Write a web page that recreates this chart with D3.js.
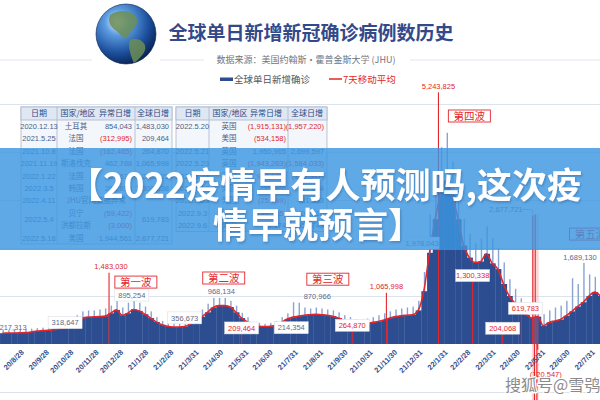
<!DOCTYPE html>
<html>
<head>
<meta charset="utf-8">
<script src="https://cdn.jsdelivr.net/npm/d3@7/dist/d3.min.js"></script>
<style>
body { margin: 0; background: #fff; }
svg { display: block; font-family: "Noto Sans CJK SC", "Noto Sans", sans-serif; }
.num { font-family: "Liberation Sans", Arial, sans-serif; }
</style>
</head>
<body>
<svg id="chart" width="600" height="400"></svg>
<script>
// weekly data, in thousands, weeks starting 2020-08-01
var weekAvg = [225,228,230,232,236,250,270,278,285,300,320,340,
  400,470,540,560,565,570,580,
  640,710,600,640,720,690,620,
  540,460,400,370,355,355,365,
  420,510,570,660,760,800,800,770,
  660,540,460,380,370,365,370,
  390,450,520,560,580,600,610,620,610,600,580,
  540,490,450,430,420,430,450,470,500,540,570,590,600,610,
  700,1100,1900,2600,3150,3400,3100,2600,2050,
  1800,1700,1720,1880,1680,1560,1250,1000,850,700,610,540,
  570,380,450,480,510,590,680,780,870,1000,1080,1000];
var weekPeak = [290,290,300,300,310,320,330,340,350,370,400,420,
  520,600,680,700,700,720,740,
  800,900,760,860,900,860,780,
  680,560,480,440,420,430,460,
  540,640,720,840,960,960,960,900,
  800,650,560,460,440,420,440,
  480,560,640,870,860,760,740,760,740,720,700,
  660,600,560,520,500,530,560,600,640,680,720,740,760,780,
  900,1500,2700,3500,4100,4400,3800,3200,2600,
  2300,2100,2200,2450,2200,2000,1700,1350,1150,950,850,760,
  800,620,700,760,800,900,1370,1250,1689,1450,1400,1540];

var tickDates = ["2020-08-28","2020-09-28","2020-10-28","2020-11-28","2020-12-28","2021-01-28",
  "2021-02-28","2021-03-31","2021-04-30","2021-05-31","2021-06-30","2021-07-31","2021-08-31",
  "2021-09-30","2021-10-31","2021-11-30","2021-12-31","2022-01-31","2022-02-28","2022-03-31",
  "2022-04-30","2022-05-31","2022-06-30","2022-07-31"];

// JHU anomaly days: global daily total
var anomalyDates = ["2020-12-13","2021-05-25","2021-10-08","2021-11-19","2022-01-22","2022-03-05",
  "2022-04-11","2022-05-04","2022-05-18","2022-05-20","2022-05-21","2022-05-23","2022-05-24"];
var anomalyValues = [1483030,209464,264870,1065998,5243825,1300338,204068,619783,2677721,
  -1957220,2699597,-1584033,-120547];

var labelDates = ["2020-08-17","2020-10-20","2020-12-13","2021-01-10","2021-03-16","2021-04-30",
  "2021-05-25","2021-07-25","2021-08-26","2021-10-08","2021-11-19","2022-01-02","2022-01-22",
  "2022-03-05","2022-05-18","2022-05-04","2022-04-11","2022-05-24","2022-07-15"];
var labelValues = [217313,318647,1483030,895254,356673,968134,209464,214354,870966,264870,
  1065998,1978043,5243825,1300338,2677721,619783,204068,-120547,1689130];

var waveNames = ["第一波","第二波","第三波","第四波","第五波"];
var waveDates = ["2021-01-15","2021-05-03","2021-09-08","2022-03-01","2022-07-28"];
var waveLevels = [1290000,1375000,1350000,4750000,2290000];

var tableHead = ["日期","国家/地区","异常日增","全球日增"];
var leftRows = [
  ["2020.12.13","土耳其","854,043","1,483,030"],
  ["2021.5.25","法国","(312,995)","209,464"],
  ["2021.10.8","法国","(162,465)","264,870"],
  ["2021.11.19","斯洛伐克","462,788","1,065,998"],
  ["2022.1.22","法国","501,635","5,243,825"],
  ["2022.3.5","韩国","266,853","1,300,338"],
  ["2022.4.11","JHU官网数据异常","",""],
  ["2022.5.4","贝宁","(59,422)","619,783"],
  ["","洪都拉斯","(3,000)",""],
  ["2022.5.18","美国","1,944,561","2,677,721"]];
var rightRows = [
  ["2022.5.20","英国","(1,915,131)","(1,957,220)"],
  ["","美国","(534,158)",""],
  ["2022.5.21","英国","1,950,965","2,699,597"],
  ["2022.5.23","英国","(1,943,263)","(1,584,033)"],
  ["2022.5.24","英国","(1,928,580)","(120,547)"],
  ["2022.6.13","美国","235,586","611,824"],
  ["2022.8.23","美国","(25,799)","431,953"],
  ["2022.9.3","法国","(46,315)","404,516"],
  ["2022.9.6","美国","33,174","556,749"]];

var parse = d3.timeParse("%Y-%m-%d");
var format = d3.format(",");
var RED = "#e3262b", NAVY = "#2d4d91", GRAY = "#5d6b88";

var svg = d3.select("#chart");
var defs = svg.append("defs");

var x = d3.scaleTime()
  .domain([parse("2020-08-28"), parse("2022-07-31")])
  .range([22, 593]);
var y = d3.scaleLinear().domain([0, 6000000]).range([344, 56]);

// ---- header ----
var rg = defs.append("radialGradient").attr("id", "globe")
  .attr("cx", "36%").attr("cy", "30%").attr("r", "72%");
rg.append("stop").attr("offset", "0%").attr("stop-color", "#eaf5ff");
rg.append("stop").attr("offset", "30%").attr("stop-color", "#5b9be0");
rg.append("stop").attr("offset", "72%").attr("stop-color", "#1c4f9c");
rg.append("stop").attr("offset", "100%").attr("stop-color", "#0b2658");
defs.append("clipPath").attr("id", "gclip").append("circle").attr("r", 30);

svg.selectAll(".sep")
  .data([[0, 92], [160, 204], [410, 600]])
  .enter().append("line")
  .attr("x1", function(d) { return d[0]; })
  .attr("x2", function(d) { return d[1]; })
  .attr("y1", 60).attr("y2", 60)
  .style("stroke", "#dfe5ee");

var globe = svg.append("g").attr("transform", "translate(126,34)");
globe.append("circle").attr("r", 30).style("fill", "url(#globe)");
var land = globe.append("g").attr("clip-path", "url(#gclip)").style("fill", "#6d8f55").style("opacity", 0.85);
land.append("path").attr("d", "M-16,-19 C-7,-26 9,-23 11,-15 C13,-9 5,-5 3,1 C1,6 -4,4 -6,0 C-10,-4 -20,-8 -16,-19 Z");
land.append("path").attr("d", "M4,6 C12,3 21,8 19,16 C17,22 11,26 8,30 C6,23 1,14 4,6 Z");
globe.append("circle").attr("r", 30).style("fill", "none").style("stroke", "#0a2250").style("stroke-width", 0.6);

svg.append("text").attr("x", 311).attr("y", 40)
  .attr("text-anchor", "middle")
  .style("font-size", "19px").style("font-weight", "bold").style("fill", "#33498a")
  .text("全球单日新增新冠确诊病例数历史");
svg.append("text").attr("x", 306).attr("y", 63)
  .attr("text-anchor", "middle")
  .style("font-size", "9px").style("fill", "#6f7480")
  .text("数据来源：美国约翰斯·霍普金斯大学 (JHU)");

svg.append("rect").attr("x", 220).attr("y", 77.5).attr("width", 13).attr("height", 3.5).style("fill", NAVY);
svg.append("text").attr("x", 234).attr("y", 82.5).style("font-size", "9.5px").style("fill", "#555")
  .text("全球单日新增确诊");
svg.append("line").attr("x1", 329).attr("x2", 342).attr("y1", 79).attr("y2", 79)
  .style("stroke", RED).style("stroke-width", 1.5);
svg.append("text").attr("x", 343).attr("y", 82.5).style("font-size", "9.5px").style("fill", RED)
  .text("7天移动平均");

// ---- grid ----
svg.append("g").selectAll("line")
  .data([1e6, 2e6, 3e6, 4e6, 5e6])
  .enter().append("line")
  .attr("x1", 0).attr("x2", 600)
  .attr("y1", function(d) { return Math.round(y(d)) + 0.5; })
  .attr("y2", function(d) { return Math.round(y(d)) + 0.5; })
  .style("stroke", "#dde3ec");

// ---- bars ----
var start = parse("2020-08-01");
var weekDates = weekAvg.map(function(d, i) { return d3.timeDay.offset(start, i * 7); });

svg.append("g").selectAll("rect")
  .data(weekPeak)
  .enter().append("rect")
  .attr("x", function(d, i) { return x(d3.timeDay.offset(weekDates[i], 3)); })
  .attr("width", 1.4)
  .attr("y", function(d) { return y(d * 1000); })
  .attr("height", function(d) { return y(0) - y(d * 1000); })
  .style("fill", "#8aa3d2");

svg.append("g").selectAll("rect")
  .data(weekAvg)
  .enter().append("rect")
  .attr("x", function(d, i) { return x(weekDates[i]); })
  .attr("width", function(d, i) { return x(d3.timeDay.offset(weekDates[i], 7)) - x(weekDates[i]) + 0.3; })
  .attr("y", function(d) { return y(d * 1000); })
  .attr("height", function(d) { return y(0) - y(d * 1000); })
  .style("fill", NAVY);

// pink band of the May 2022 corrections
var b0 = x(parse("2022-05-18")) - 1, b1 = x(parse("2022-05-24")) + 1;
svg.append("rect").attr("x", b0).attr("width", b1 - b0)
  .attr("y", y(2700000)).attr("height", 400 - y(2700000))
  .style("fill", "rgba(255,110,110,0.28)");

// anomaly lines
svg.append("g").selectAll("line")
  .data(anomalyValues)
  .enter().append("line")
  .attr("x1", function(d, i) { return x(parse(anomalyDates[i])); })
  .attr("x2", function(d, i) { return x(parse(anomalyDates[i])); })
  .attr("y1", y(0))
  .attr("y2", function(d) { return y(d); })
  .style("stroke", RED).style("stroke-width", 1.1);

// 7 day average
var line = d3.line()
  .x(function(d, i) { return x(d3.timeDay.offset(weekDates[i], 3.5)); })
  .y(function(d) { return y(d * 1000); })
  .curve(d3.curveMonotoneX);
svg.append("path").datum(weekAvg)
  .attr("d", line)
  .style("fill", "none").style("stroke", RED).style("stroke-width", 1.6);

// value labels
var labelLook = ["g","gb","r","gb","gb","g","rb","gb","g","rb","r","gb","r","rb","g","rb","rb","r","g"];
var labelShift = [[0,0],[0,0],[2,0],[0,0],[0,-3],[0,0],[0,0],[0,0],[0,0],[0,0],[0,0],[0,0],[0,0],
  [0,0],[-27,0],[4,0],[0,0],[8,31],[0,0]];

var lab = svg.append("g").attr("class", "num").selectAll("g")
  .data(labelValues)
  .enter().append("g")
  .attr("transform", function(d, i) {
    return "translate(" + (x(parse(labelDates[i])) + labelShift[i][0]) + "," + (y(d) - 6 + labelShift[i][1]) + ")";
  });
lab.filter(function(d, i) { return labelLook[i].length > 1; })
  .append("rect")
  .attr("x", -17).attr("y", -6).attr("width", 34).attr("height", 12)
  .style("fill", "#fff").style("stroke", "#d5d9e0").style("stroke-width", 0.5);
lab.append("text")
  .attr("text-anchor", "middle").attr("dy", "0.35em")
  .style("font-size", "7.5px")
  .style("fill", function(d, i) { return labelLook[i][0] == "r" ? RED : GRAY; })
  .text(function(d) { return d < 0 ? "(" + format(-d) + ")" : format(d); });

// leader from 2,677,721 label
var lx = x(parse("2022-05-18"));
svg.append("path")
  .attr("d", "M" + (lx - 11) + "," + (y(2677721) - 6) + " H" + (lx - 2) + " Q" + lx + "," + (y(2677721) - 6) + " " + lx + "," + (y(2677721) - 2))
  .style("fill", "none").style("stroke", "#9aa6ba").style("stroke-width", 0.8);

// wave boxes
var wv = svg.append("g").selectAll("g")
  .data(waveNames)
  .enter().append("g")
  .attr("transform", function(d, i) { return "translate(" + x(parse(waveDates[i])) + "," + y(waveLevels[i]) + ")"; });
wv.append("rect").attr("x", -21).attr("y", -6).attr("width", 42).attr("height", 12)
  .style("fill", "#fff").style("stroke", RED).style("stroke-width", 0.9);
wv.append("text").attr("text-anchor", "middle").attr("dy", "0.36em")
  .style("font-size", "10.5px").style("fill", RED)
  .text(function(d) { return d; });

// ---- tables ----
function drawTable(layout, rows, centerMerged) {
  var g = svg.append("g");
  var top = 107, hh = 13, rh = 12.4;
  var bottom = top + hh + rows.length * rh;
  g.append("rect").attr("x", layout.x0).attr("y", top)
    .attr("width", layout.x1 - layout.x0).attr("height", bottom - top)
    .style("fill", "#f3f6fb").style("stroke", "#a9b6cb").style("stroke-width", 0.8);
  g.append("rect").attr("x", layout.x0).attr("y", top)
    .attr("width", layout.x1 - layout.x0).attr("height", hh)
    .style("fill", "#dfe7f3").style("stroke", "#a9b6cb").style("stroke-width", 0.8);
  layout.borders.forEach(function(bx) {
    g.append("line").attr("x1", bx).attr("x2", bx).attr("y1", top).attr("y2", bottom)
      .style("stroke", "#a9b6cb").style("stroke-width", 0.8);
  });
  tableHead.forEach(function(h, j) {
    g.append("text").attr("x", layout.head[j]).attr("y", top + hh / 2)
      .attr("dy", "0.36em").attr("text-anchor", "middle")
      .style("font-size", "8px").style("fill", "#2d4a87")
      .text(h);
  });
  rows.forEach(function(r, i) {
    var cy = top + hh + rh * i + rh / 2;
    var merged = centerMerged && i + 1 < rows.length && rows[i + 1][0] === "";
    r.forEach(function(c, j) {
      if (c === "") return;
      var yy = cy;
      if (merged && (j == 0 || j == 3)) yy = cy + rh / 2;
      var t = g.append("text").attr("y", yy).attr("dy", "0.36em")
        .style("font-size", "7.5px")
        .style("fill", c.charAt(0) == "(" ? RED : "#4d5f86")
        .text(c);
      if (j == 0) t.attr("x", layout.date).attr("text-anchor", "middle").attr("class", "num");
      if (j == 1) {
        if (c.indexOf("JHU") == 0) t.attr("x", (layout.borders[0] + layout.borders[1]) / 2).attr("text-anchor", "middle");
        else t.attr("x", layout.country).attr("text-anchor", "middle");
      }
      if (j == 2) t.attr("x", layout.anom).attr("text-anchor", "end").attr("class", "num");
      if (j == 3) t.attr("x", layout.glob).attr("text-anchor", "end").attr("class", "num");
    });
  });
}
drawTable({x0: 21, x1: 172, borders: [57, 135], head: [39, 78, 115, 153],
  date: 39, country: 76, anom: 132, glob: 169}, leftRows, true);
drawTable({x0: 176, x1: 327, borders: [209, 288], head: [192.5, 230, 266, 307],
  date: 192.5, country: 229, anom: 286, glob: 324}, rightRows, false);

// ---- x axis ----
var xAxis = d3.axisBottom(x)
  .tickValues(tickDates.map(parse))
  .tickSize(0)
  .tickFormat(d3.timeFormat("%y/%-m/%-d"));
var gx = svg.append("g").attr("transform", "translate(0,351)").call(xAxis);
gx.select(".domain").remove();
gx.selectAll("text")
  .attr("x", 0).attr("y", 0).attr("dy", "0.35em")
  .attr("transform", "rotate(-45)")
  .style("text-anchor", "end")
  .style("font-family", "'Liberation Sans', Arial, sans-serif")
  .style("font-size", "7.5px").style("font-weight", "bold")
  .style("fill", "#34508f");

svg.append("line").attr("x1", 0).attr("x2", 600).attr("y1", 392.5).attr("y2", 392.5)
  .style("stroke", "#dde2ea");

// ---- banner ----
var sh = defs.append("filter").attr("id", "sh")
  .attr("x", "-5%").attr("y", "-30%").attr("width", "110%").attr("height", "160%");
sh.append("feDropShadow").attr("dx", 1).attr("dy", 1.5).attr("stdDeviation", 1.2)
  .attr("flood-color", "#163a6e").attr("flood-opacity", 0.35);

svg.append("rect").attr("x", 0).attr("y", 148).attr("width", 600).attr("height", 102)
  .style("fill", "rgba(60,150,225,0.82)");
var ban = svg.append("g").attr("filter", "url(#sh)")
  .style("font-size", "35px").style("font-weight", "bold").style("fill", "#fff");
ban.append("text").attr("x", 325).attr("y", 198).attr("text-anchor", "middle")
  .text("【2022疫情早有人预测吗,这次疫");
ban.append("text").attr("x", 318).attr("y", 238).attr("text-anchor", "middle")
  .text("情早就预言】");

// watermark
svg.append("text").attr("x", 505).attr("y", 391)
  .style("font-size", "16px").style("fill", "#8a8a8a")
  .style("stroke", "#fff").style("stroke-width", 2.5).style("paint-order", "stroke")
  .text("搜狐号@雪鸮人");
</script>
</body>
</html>
